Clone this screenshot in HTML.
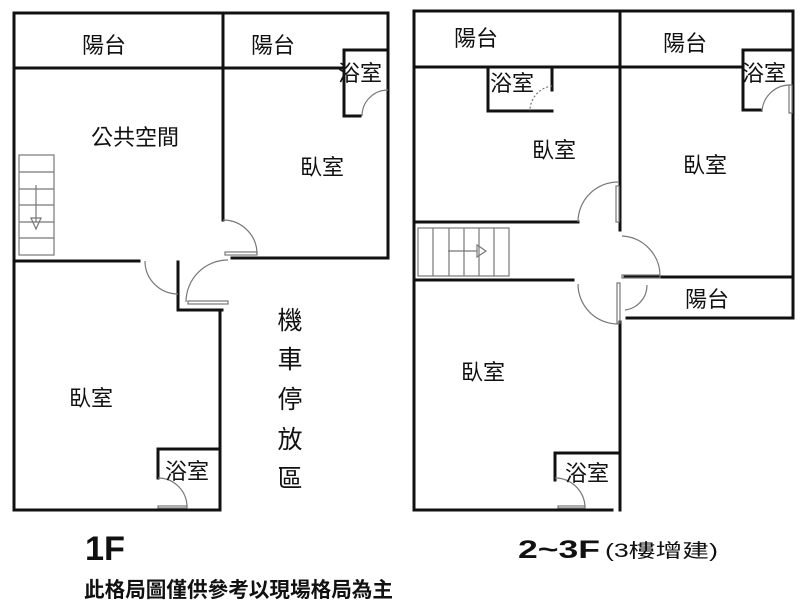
<!DOCTYPE html>
<html><head><meta charset="utf-8"><style>
html,body{margin:0;padding:0;background:#fff}
svg{display:block}
text{font-family:"Liberation Sans","Noto Sans CJK TC",sans-serif;fill:#111}
</style></head><body>
<svg width="800" height="602" viewBox="0 0 800 602" xmlns="http://www.w3.org/2000/svg">
<g stroke="#111" stroke-width="3" fill="none" stroke-linecap="square">
<path d="M14 13H388M14 13V510H220V310M388 13V258M14 68H342M223 13V220M344 50H388M344 50V116H360"/>
<path d="M14 261H139M178 262V310H222M232 258H388M158 449H220M158 449V478"/>
<path d="M414 11H793M414 11V510H612M793 11V318M414 67H740M620 11V230M488 67V111H552M552 67V90"/>
<path d="M743 50H793M743 50V110H760"/>
<path d="M414 222H578M414 280H573M625 277H790M627 318H793M620 322V510M555 453H620M555 453V480"/>
</g>
<g stroke="#777" stroke-width="1.2" fill="none">
<path d="M388 90A26 26 0 0 0 362 116"/>
<path d="M223 220A34 34 0 0 1 257 254"/>
<rect x="225" y="252" width="32" height="3"/>
<path d="M145 261A33 33 0 0 0 178 294"/>
<path d="M228 260A42 42 0 0 0 186 302"/>
<rect x="188" y="301" width="40" height="3"/>
<path d="M158 478A29 29 0 0 1 187 507"/>
<rect x="158" y="506" width="29" height="2"/>
<rect x="19" y="155" width="35" height="100"/>
<path d="M19 172H54M19 189H54M19 205H54M19 222H54M19 238H54M36 185V222M31 218L36 229L41 218Z"/>
<path d="M578 222A40 40 0 0 1 618 182"/>
<rect x="616" y="186" width="3" height="36"/>
<path d="M622 236A40 40 0 0 1 660 276"/>
<rect x="622" y="275" width="38" height="3"/>
<path d="M578 284A40 40 0 0 0 618 324"/>
<rect x="617" y="283" width="3" height="40"/>
<path d="M647 285A25 25 0 0 1 625 310"/>
<path d="M790 85A28 28 0 0 0 762 112"/>
<rect x="789" y="85" width="3" height="28"/>
<path d="M552 86A25 25 0 0 0 530 111" stroke-dasharray="2 2"/>
<path d="M555 478A30 30 0 0 1 585 507"/>
<rect x="558" y="506" width="27" height="2"/>
<rect x="418" y="228" width="91" height="48"/>
<path d="M433 228V276M449 228V276M464 228V276M479 228V276M494 228V276M448 251H477M477 245L486 251L477 257Z"/>
</g>
<g font-size="22">
<text x="82" y="53">陽台</text>
<text x="251" y="53">陽台</text>
<text x="338" y="81">浴室</text>
<text x="91" y="145">公共空間</text>
<text x="300" y="175">臥室</text>
<text x="69" y="406">臥室</text>
<text x="165" y="479">浴室</text>
<text x="454" y="46">陽台</text>
<text x="663" y="51">陽台</text>
<text x="742" y="81">浴室</text>
<text x="490" y="91">浴室</text>
<text x="532" y="158">臥室</text>
<text x="683" y="173">臥室</text>
<text x="685" y="307">陽台</text>
<text x="461" y="380">臥室</text>
<text x="565" y="481">浴室</text>
</g>
<g font-size="25" text-anchor="middle">
<text x="290" y="329">機</text>
<text x="290" y="368">車</text>
<text x="290" y="408">停</text>
<text x="290" y="448">放</text>
<text x="290" y="487">區</text>
</g>
<text x="85" y="560" font-size="34" font-weight="bold" textLength="40" lengthAdjust="spacingAndGlyphs">1F</text>
<text x="518" y="558" font-size="25" font-weight="bold" textLength="82" lengthAdjust="spacingAndGlyphs">2~3F</text>
<text x="605" y="557" font-size="19" textLength="113" lengthAdjust="spacingAndGlyphs">(3樓增建)</text>
<text x="84" y="597" font-size="21" font-weight="bold" textLength="309" lengthAdjust="spacingAndGlyphs">此格局圖僅供參考以現場格局為主</text>
</svg>
</body></html>
